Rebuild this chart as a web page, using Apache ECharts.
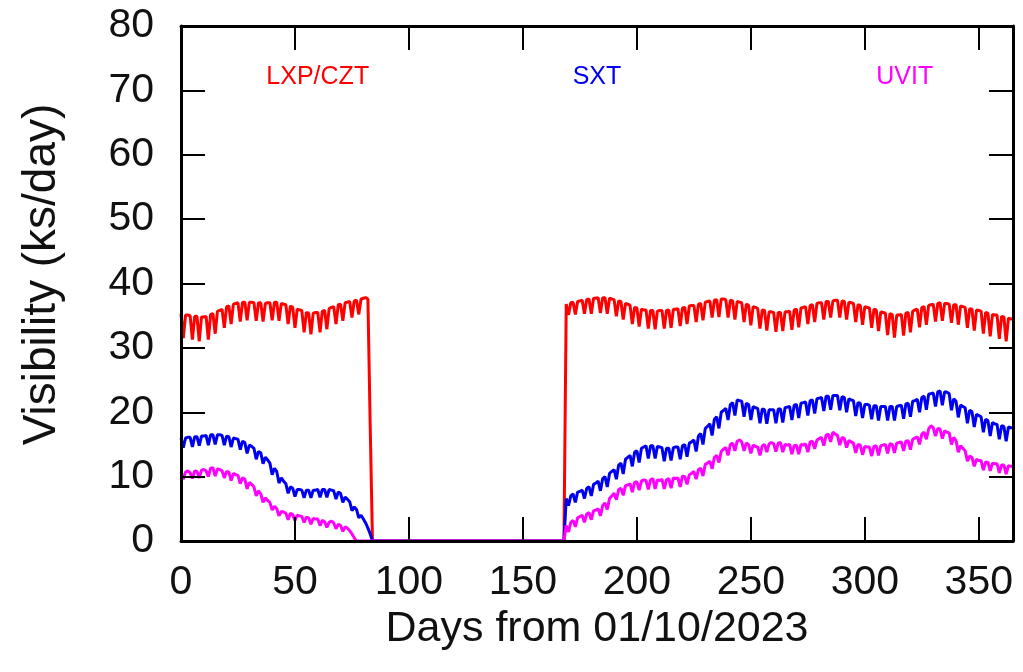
<!DOCTYPE html>
<html>
<head>
<meta charset="utf-8">
<script src="https://cdn.jsdelivr.net/npm/echarts@6/dist/echarts.min.js"></script>
<style>
  html, body { margin: 0; padding: 0; background: #fff; }
  #chart { width: 1023px; height: 672px; }
</style>
</head>
<body>
<div id="chart"></div>
<script>
// Daily visibility (ks/day) per instrument. Each instrument has an early
// window starting at day 0 and a late window starting at LATE_START.
const LATE_START = 168;

const lxpEarly = [
  35.3, 31.5, 35.1, 35.1, 35.0, 31.3, 34.9, 34.9, 31.0, 34.8,
  34.8, 34.9, 31.3, 35.2, 35.3, 32.2, 35.7, 35.8, 36.0, 33.1,
  36.4, 36.5, 33.7, 36.8, 36.9, 37.0, 34.1, 37.1, 37.1, 34.3,
  37.1, 37.1, 37.0, 34.2, 37.0, 37.0, 34.1, 36.9, 37.0, 37.0,
  34.3, 37.1, 37.1, 34.2, 36.9, 36.8, 36.7, 33.7, 36.5, 36.3,
  33.1, 36.0, 35.9, 35.8, 32.4, 35.5, 35.4, 32.1, 35.4, 35.5,
  35.5, 32.4, 35.7, 35.8, 32.9, 36.1, 36.3, 36.4, 33.7, 36.7,
  36.8, 34.2, 37.0, 37.1, 37.2, 34.7, 37.3, 37.4, 35.2, 37.6,
  37.7, 37.8, 37.6, 18.0, 0
];
const lxpLate = [
  0, 36.8,
  35.1, 37.0, 37.1, 35.2, 37.2, 37.3, 37.4, 35.3, 37.5, 37.6,
  35.3, 37.7, 37.7, 37.8, 35.4, 37.8, 37.8, 35.3, 37.7, 37.6,
  37.5, 34.9, 37.3, 37.2, 34.4, 36.9, 36.8, 36.6, 33.7, 36.3,
  36.2, 33.3, 36.0, 35.9, 35.9, 33.0, 35.8, 35.8, 32.9, 35.7,
  35.8, 35.8, 33.0, 35.8, 35.9, 33.1, 36.0, 36.0, 36.1, 33.4,
  36.2, 36.3, 33.7, 36.5, 36.6, 36.6, 34.0, 36.8, 36.9, 34.3,
  37.1, 37.2, 37.3, 34.7, 37.4, 37.5, 34.8, 37.6, 37.6, 37.5,
  34.7, 37.4, 37.3, 34.4, 37.2, 37.1, 37.0, 34.0, 36.8, 36.6,
  33.5, 36.4, 36.3, 36.1, 33.0, 35.9, 35.8, 32.7, 35.6, 35.6,
  35.5, 32.5, 35.5, 35.5, 32.6, 35.6, 35.6, 35.7, 32.8, 35.9,
  36.0, 33.2, 36.2, 36.3, 36.4, 33.7, 36.6, 36.7, 34.0, 36.9,
  37.0, 37.0, 34.4, 37.2, 37.2, 34.7, 37.3, 37.4, 37.4, 34.7,
  37.3, 37.2, 34.4, 37.1, 37.0, 36.9, 34.0, 36.7, 36.6, 33.6,
  36.4, 36.3, 36.2, 33.1, 36.0, 35.9, 32.6, 35.6, 35.5, 35.4,
  32.0, 35.3, 35.2, 31.6, 35.1, 35.1, 35.2, 31.9, 35.4, 35.5,
  32.4, 35.7, 35.9, 36.0, 33.2, 36.3, 36.4, 33.6, 36.6, 36.7,
  36.8, 34.1, 36.9, 37.0, 34.2, 36.9, 36.9, 36.8, 33.9, 36.7,
  36.7, 33.6, 36.5, 36.4, 36.3, 33.1, 36.1, 36.0, 32.7, 35.9,
  35.8, 35.7, 32.2, 35.5, 35.4, 31.8, 35.2, 35.1, 35.1, 31.4,
  34.9, 34.8, 31.0, 34.6, 34.5, 34.5
];

const sxtEarly = [
  16.0, 14.5, 16.0, 16.1, 16.1, 14.6, 16.2, 16.2, 14.8, 16.3,
  16.3, 16.4, 14.9, 16.5, 16.5, 15.0, 16.5, 16.5, 16.4, 14.9,
  16.3, 16.2, 14.6, 16.0, 15.9, 15.8, 14.2, 15.5, 15.3, 13.6,
  14.9, 14.7, 14.4, 12.7, 13.9, 13.7, 12.0, 13.0, 12.6, 12.1,
  10.3, 11.3, 10.8, 9.0, 9.8, 9.3, 8.9, 7.4, 8.4, 8.2,
  6.9, 8.0, 8.0, 7.9, 6.7, 7.9, 7.9, 6.7, 7.9, 7.9,
  8.0, 6.8, 8.0, 8.0, 6.8, 8.0, 7.9, 7.8, 6.5, 7.6,
  7.4, 6.0, 6.8, 6.5, 6.1, 4.7, 5.3, 4.9, 3.6, 4.0,
  3.4, 2.8, 2.0, 1.1, 0
];
const sxtLate = [
  0, 6.6,
  5.5, 7.0, 7.3, 6.0, 7.6, 7.7, 7.9, 6.6, 8.2, 8.4,
  7.0, 8.8, 9.0, 9.3, 7.8, 9.7, 10.0, 8.4, 10.5, 10.8,
  11.1, 9.6, 11.8, 12.1, 10.4, 12.7, 13.0, 13.3, 11.6, 13.8,
  14.0, 12.2, 14.4, 14.6, 14.8, 12.8, 14.8, 14.8, 12.8, 14.7,
  14.6, 14.5, 12.4, 14.4, 14.4, 12.5, 14.5, 14.6, 14.6, 12.7,
  14.8, 15.0, 13.1, 15.2, 15.4, 15.7, 13.9, 16.3, 16.7, 15.0,
  17.5, 17.8, 18.2, 16.4, 18.9, 19.3, 17.5, 20.0, 20.3, 20.6,
  18.8, 21.2, 21.5, 19.5, 21.9, 21.8, 21.7, 19.3, 21.4, 21.2,
  18.8, 20.9, 20.7, 20.6, 18.3, 20.5, 20.4, 18.2, 20.4, 20.4,
  20.4, 18.3, 20.5, 20.5, 18.4, 20.7, 20.8, 20.9, 18.8, 21.1,
  21.2, 19.1, 21.4, 21.5, 21.6, 19.5, 21.8, 21.9, 19.8, 22.1,
  22.2, 22.3, 20.2, 22.5, 22.5, 20.4, 22.6, 22.6, 22.6, 20.3,
  22.4, 22.3, 20.0, 22.1, 21.9, 21.8, 19.4, 21.5, 21.4, 19.1,
  21.2, 21.2, 21.1, 18.9, 21.0, 21.0, 18.7, 20.9, 20.9, 20.9,
  18.7, 20.9, 20.9, 18.7, 20.9, 21.0, 21.1, 19.0, 21.3, 21.4,
  19.3, 21.7, 21.8, 22.0, 20.0, 22.3, 22.5, 20.4, 22.8, 22.9,
  23.0, 20.9, 23.2, 23.3, 21.1, 23.2, 23.1, 22.9, 20.3, 22.1,
  21.7, 19.2, 21.1, 20.9, 20.7, 18.3, 20.3, 20.1, 17.7, 19.7,
  19.5, 19.3, 16.9, 18.9, 18.7, 16.3, 18.4, 18.2, 18.1, 15.8,
  17.9, 17.8, 15.5, 17.7, 17.6, 17.6
];

const uvitEarly = [
  10.7, 9.6, 10.7, 10.9, 10.6, 9.7, 10.9, 10.8, 9.8, 11.0,
  11.1, 10.9, 10.0, 11.3, 11.4, 10.1, 11.2, 11.1, 10.9, 9.8,
  10.8, 10.7, 9.4, 10.5, 10.3, 10.2, 8.9, 9.8, 9.6, 8.1,
  9.1, 8.8, 8.4, 7.0, 7.8, 7.3, 6.0, 6.7, 6.3, 6.0,
  4.8, 5.4, 5.0, 3.9, 4.6, 4.5, 4.3, 3.3, 4.3, 4.1,
  3.2, 4.0, 3.9, 3.8, 2.9, 3.7, 3.6, 2.6, 3.5, 3.4,
  3.4, 2.4, 3.2, 3.0, 2.1, 2.9, 3.1, 2.8, 1.9, 2.6,
  2.4, 1.5, 2.2, 2.0, 1.6, 1.1, 0.5, 0
];
const uvitLate = [
  0, 2.4,
  1.4, 2.9, 3.2, 2.2, 3.6, 3.8, 4.0, 2.9, 4.2, 4.4,
  3.3, 4.7, 4.8, 5.0, 3.9, 5.5, 5.9, 4.9, 6.6, 7.0,
  7.4, 6.4, 8.0, 8.2, 7.1, 8.6, 8.7, 8.9, 7.6, 9.1,
  9.2, 7.9, 9.3, 9.5, 9.4, 8.0, 9.5, 9.7, 8.1, 9.5,
  9.4, 9.6, 8.1, 9.5, 9.7, 8.2, 9.8, 9.7, 9.8, 8.4,
  10.1, 10.0, 8.8, 10.3, 10.5, 10.8, 9.6, 11.1, 11.3, 10.1,
  11.9, 12.1, 12.4, 11.2, 13.0, 13.3, 12.2, 13.9, 14.3, 14.5,
  13.3, 15.0, 15.2, 14.0, 15.5, 15.7, 15.4, 14.0, 15.2, 15.0,
  13.6, 14.9, 14.7, 14.6, 13.3, 14.8, 15.0, 13.8, 15.1, 15.3,
  15.1, 13.9, 15.2, 15.3, 13.8, 15.0, 14.9, 15.0, 13.5, 14.8,
  14.9, 13.5, 15.0, 14.9, 15.1, 13.8, 15.4, 15.5, 14.3, 15.7,
  15.9, 16.1, 14.8, 16.4, 16.6, 15.4, 16.9, 16.6, 16.4, 14.9,
  16.1, 15.9, 14.5, 15.6, 15.4, 15.2, 13.7, 15.0, 14.9, 13.4,
  14.7, 14.6, 14.6, 13.2, 14.7, 14.8, 13.3, 14.8, 14.9, 15.0,
  13.6, 15.1, 15.0, 13.7, 15.2, 15.3, 15.4, 14.0, 15.5, 15.6,
  14.2, 15.8, 16.0, 16.2, 15.0, 16.6, 16.9, 15.8, 17.4, 17.9,
  17.6, 16.3, 17.5, 17.4, 15.9, 17.1, 16.9, 16.8, 15.0, 16.1,
  15.6, 13.8, 14.8, 14.4, 14.0, 12.4, 13.2, 13.0, 11.6, 12.7,
  12.5, 12.5, 11.0, 12.3, 12.2, 10.9, 12.1, 12.0, 12.0, 10.6,
  11.8, 11.8, 10.4, 11.7, 11.6, 11.6
];

const instrumentNames = ['LXP/CZT', 'SXT', 'UVIT'];
const xTickValues = [0, 50, 100, 150, 200, 250, 300, 350];
const yTickValues = [0, 10, 20, 30, 40, 50, 60, 70, 80];

// Instrument name placement, in (day, ks/day) coordinates
const namePositions = [[60, 72], [182.5, 72], [317.5, 72]];
const colors = ['#ff0000', '#0000f0', '#ff00ff'];

function toPoints(early, late) {
  return early.map((v, i) => [i, v]).concat(late.map((v, i) => [LATE_START + i, v]));
}

const seriesData = [
  toPoints(lxpEarly, lxpLate),
  toPoints(sxtEarly, sxtLate),
  toPoints(uvitEarly, uvitLate)
];

const FONT = 'Liberation Sans, Arial, Helvetica, sans-serif';

// Ticks point into the plot on all four sides of the frame
const tickStyle = { show: true, inside: true, length: 24, lineStyle: { color: '#000', width: 2 } };
const frameLine = { show: true, onZero: false, lineStyle: { color: '#000', width: 3 } };

const chart = echarts.init(document.getElementById('chart'), null, { renderer: 'canvas' });

chart.setOption({
  animation: false,
  backgroundColor: '#ffffff',
  grid: { left: 181, top: 26, width: 832, height: 515, containLabel: false },
  xAxis: [
    {
      type: 'value', min: 0, max: 365, interval: 50, position: 'bottom', z: 5,
      axisLine: frameLine, axisTick: tickStyle, splitLine: { show: false },
      axisLabel: {
        fontFamily: FONT, fontSize: 41, color: '#111', margin: 21,
        formatter: v => (xTickValues.indexOf(v) >= 0 ? String(v) : '')
      },
      name: 'Days from 01/10/2023', nameLocation: 'middle', nameGap: 64,
      nameTextStyle: { fontFamily: FONT, fontSize: 43, color: '#111' }
    },
    {
      type: 'value', min: 0, max: 365, interval: 50, position: 'top', z: 5,
      axisLine: frameLine, axisTick: tickStyle, splitLine: { show: false },
      axisLabel: { show: false }
    }
  ],
  yAxis: [
    {
      type: 'value', min: 0, max: 80, interval: 10, position: 'left', z: 5,
      axisLine: frameLine, axisTick: tickStyle, splitLine: { show: false },
      axisLabel: {
        fontFamily: FONT, fontSize: 41, color: '#111', margin: 27,
        formatter: v => (yTickValues.indexOf(v) >= 0 ? String(v) : '')
      },
      name: 'Visibility (ks/day)', nameLocation: 'middle', nameRotate: 90, nameGap: 116,
      nameTextStyle: { fontFamily: FONT, fontSize: 46, color: '#111', padding: [0, 0, 0, 18] }
    },
    {
      type: 'value', min: 0, max: 80, interval: 10, position: 'right', z: 5,
      axisLine: frameLine, axisTick: tickStyle, splitLine: { show: false },
      axisLabel: { show: false }
    }
  ],
  series: instrumentNames.map((name, k) => ({
    name: name,
    type: 'line',
    xAxisIndex: 0,
    yAxisIndex: 0,
    data: seriesData[k],
    showSymbol: false,
    symbol: 'none',
    clip: true,
    lineStyle: { color: colors[k], width: 3, join: 'bevel' },
    itemStyle: { color: colors[k] },
    markPoint: {
      symbol: 'circle', symbolSize: 0,
      data: [{ coord: namePositions[k], value: name }],
      label: {
        show: true, position: 'inside', formatter: name,
        fontFamily: FONT, fontSize: 25, color: colors[k]
      }
    }
  }))
});
</script>
</body>
</html>
